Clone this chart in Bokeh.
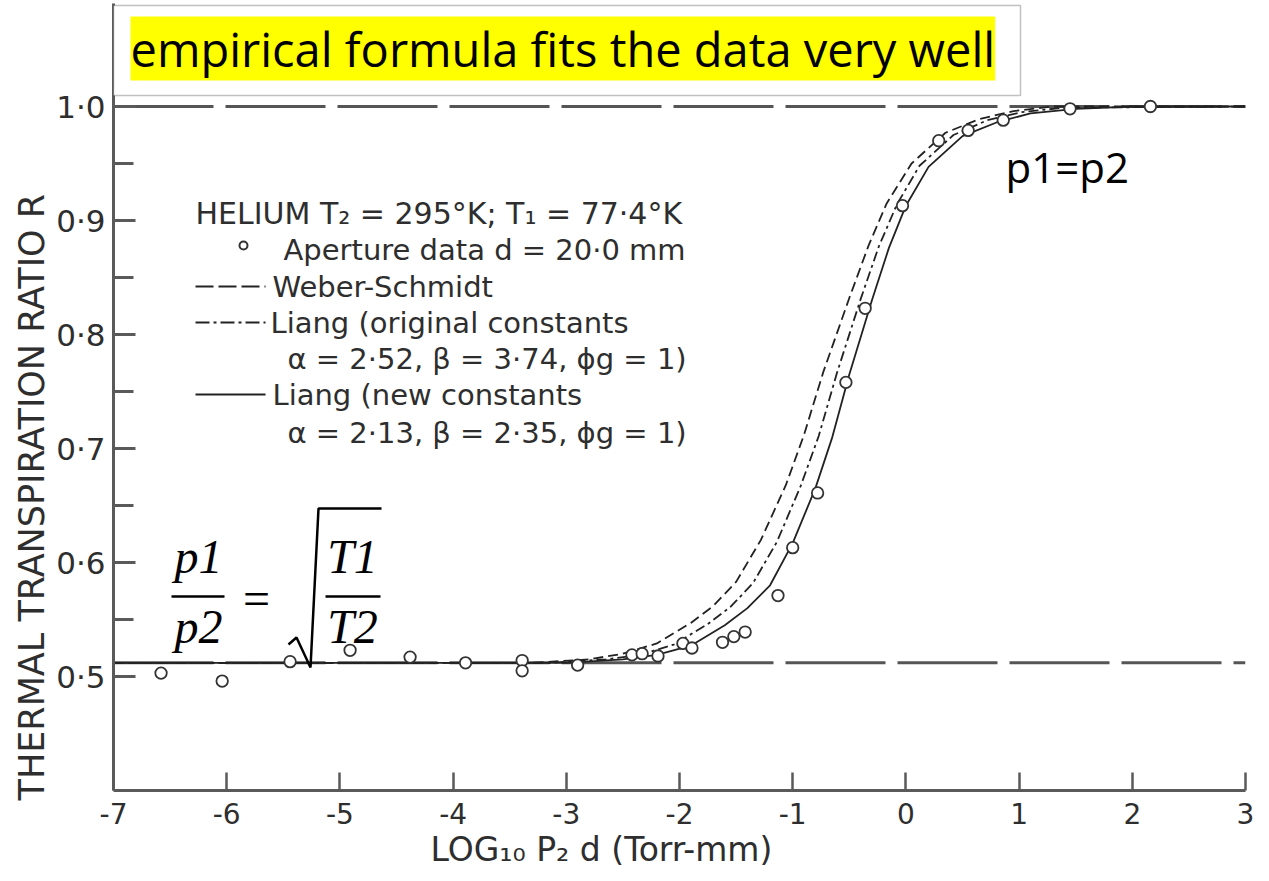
import math
from bokeh.plotting import figure
from bokeh.models import Range1d, FixedTicker, Label, BoxAnnotation, Title
from bokeh.core.properties import value
from bokeh.embed import file_html
from bokeh.resources import INLINE

# ---------------- data ----------------
aperture_x = [-6.58, -6.04, -5.44, -4.91, -4.38, -3.89, -3.39, -3.39, -2.90, -2.42, -2.33, -2.19,
              -1.97, -1.89, -1.62, -1.52, -1.42, -1.13, -1.00, -0.78, -0.53, -0.36, -0.03, 0.29,
              0.55, 0.86, 1.45, 2.16]
aperture_y = [0.503, 0.496, 0.513, 0.523, 0.517, 0.512, 0.514, 0.505, 0.510, 0.519, 0.520, 0.518,
              0.529, 0.525, 0.530, 0.535, 0.539, 0.571, 0.613, 0.661, 0.758, 0.823, 0.913, 0.970,
              0.979, 0.988, 0.998, 1.000]

# Weber-Schmidt (dashed)
ws_x = [-7.0, -3.3, -2.8, -2.5, -2.2, -1.9, -1.7, -1.5, -1.28, -1.06, -0.9, -0.73, -0.5, -0.33,
        -0.17, 0.05, 0.35, 0.65, 0.95, 1.3, 3.0]
ws_y = [0.512, 0.512, 0.515, 0.520, 0.529, 0.547, 0.562, 0.583, 0.620, 0.668, 0.712, 0.767, 0.832,
        0.878, 0.915, 0.950, 0.977, 0.989, 0.996, 1.000, 1.000]

# Liang, original constants (dash-dot)
lo_x = [-7.0, -3.15, -2.65, -2.35, -2.05, -1.75, -1.55, -1.35, -1.14, -0.93, -0.77, -0.61, -0.4,
        -0.24, -0.08, 0.12, 0.42, 0.72, 1.02, 1.4, 3.0]
lo_y = [0.512, 0.512, 0.515, 0.519, 0.528, 0.546, 0.561, 0.582, 0.618, 0.667, 0.711, 0.766, 0.831,
        0.877, 0.914, 0.948, 0.975, 0.988, 0.995, 0.999, 1.000]

# Liang, new constants (solid)
ln_x = [-7.0, -3.0, -2.5, -2.2, -1.9, -1.6, -1.4, -1.2, -1.0, -0.8, -0.65, -0.5, -0.3, -0.15, 0.0,
        0.2, 0.5, 0.8, 1.1, 1.5, 2.0, 3.0]
ln_y = [0.512, 0.512, 0.515, 0.519, 0.527, 0.545, 0.560, 0.580, 0.617, 0.665, 0.710, 0.765, 0.830,
        0.876, 0.913, 0.947, 0.974, 0.986, 0.994, 0.998, 1.000, 1.000]

low_ratio = 0.512    # sqrt(T1/T2)
high_ratio = 1.0     # p1 = p2

x_ticks = [-7, -6, -5, -4, -3, -2, -1, 0, 1, 2, 3]
x_tick_labels = ["-7", "-6", "-5", "-4", "-3", "-2", "-1", "0", "1", "2", "3"]
y_ticks = [0.5, 0.6, 0.7, 0.8, 0.9, 1.0]
y_tick_labels = ["0·5", "0·6", "0·7", "0·8", "0·9", "1·0"]
y_minor_ticks = [0.55, 0.65, 0.75, 0.85, 0.95]

title_text = "empirical formula fits the data very well"
x_label = "LOG₁₀ P₂ d  (Torr-mm)"
y_label = "THERMAL  TRANSPIRATION  RATIO   R"
legend_head = "HELIUM  T₂ = 295°K;  T₁ = 77·4°K"
legend_rows = ["Aperture data  d = 20·0 mm", "Weber-Schmidt", "Liang (original constants",
               "α = 2·52,  β = 3·74,  ϕg = 1)", "Liang (new constants",
               "α = 2·13,  β = 2·35,  ϕg = 1)"]

# ---------------- layout ----------------
W, H = 1269, 881
L, R, T, B = 113, 24, 3, 91
X0, X1 = -7.0, 3.0
Y0 = 0.4
PX_PER_Y = 1140.0
Y1 = Y0 + (H - T - B) / PX_PER_Y

def dx(px):
    return X0 + (px - L) * (X1 - X0) / (W - L - R)

def dy(py):
    return Y1 - (py - T) / PX_PER_Y

INK = "#2e2e2e"
AXIS = "#5a5a5a"

p = figure(width=W, height=H, x_range=Range1d(X0, X1), y_range=Range1d(Y0, Y1),
           output_backend="svg", toolbar_location=None,
           min_border_left=L, min_border_right=R, min_border_top=T, min_border_bottom=B)
p.grid.visible = False
p.outline_line_color = None
p.background_fill_color = "white"
p.border_fill_color = "white"

# axes
xa = p.xaxis[0]
xa.ticker = FixedTicker(ticks=x_ticks)
xa.major_label_overrides = {t: s for t, s in zip(x_ticks, x_tick_labels)}
xa.major_tick_in = 18
xa.major_tick_out = 0
xa.minor_tick_line_color = None
xa.axis_line_width = 3
xa.axis_line_color = AXIS
xa.major_tick_line_width = 2.5
xa.major_tick_line_color = AXIS
xa.major_label_text_font = "DejaVu Sans"
xa.major_label_text_font_size = "28px"
xa.major_label_text_color = INK
xa.major_label_standoff = 12

ya = p.yaxis[0]
ya.ticker = FixedTicker(ticks=y_ticks, minor_ticks=y_minor_ticks)
ya.major_label_overrides = {t: s for t, s in zip(y_ticks, y_tick_labels)}
ya.major_tick_in = 22
ya.major_tick_out = 0
ya.minor_tick_in = 20
ya.minor_tick_out = 0
ya.axis_line_width = 3
ya.axis_line_color = AXIS
ya.major_tick_line_width = 3
ya.major_tick_line_color = AXIS
ya.minor_tick_line_width = 3
ya.minor_tick_line_color = AXIS
ya.major_label_text_font = "DejaVu Sans"
ya.major_label_text_font_size = "31px"
ya.major_label_text_color = INK
ya.major_label_standoff = 8

# axis titles as side titles (so they can be shifted along the axis)
p.add_layout(Title(text=y_label, align="left", offset=-10, standoff=4, text_font="DejaVu Sans",
                   text_font_size="35px", text_font_style="normal", text_color=INK), "left")
p.add_layout(Title(text=x_label, align="left", offset=317, standoff=2, text_font="DejaVu Sans",
                   text_font_size="33px", text_font_style="normal", text_color=INK), "below")

# asymptotes
p.line([X0, X1], [high_ratio, high_ratio], line_color="#555555", line_width=3, line_dash="100 12")
p.line([X0, X1], [low_ratio, low_ratio], line_color="#555555", line_width=3, line_dash="100 12")

# curves
p.line(ws_x, ws_y, line_color="#222222", line_width=1.8, line_dash="10 5")
p.line(lo_x, lo_y, line_color="#222222", line_width=1.8, line_dash="10 4 3 4")
p.line(ln_x, ln_y, line_color="#222222", line_width=1.8)

# data
p.scatter(aperture_x, aperture_y, marker="circle", size=11.5, fill_color="white",
          line_color="#333333", line_width=1.8)

# ---------------- in-plot legend (drawn as in the scanned figure) ----------------
leg_font = value("DejaVu Sans")
p.text([dx(195)], [dy(213)], text=[legend_head], text_font=leg_font, text_font_size="30px",
       text_color=INK, text_baseline="middle")
p.scatter([dx(243)], [dy(245)], marker="circle", size=8, fill_color="white",
          line_color="#333333", line_width=2)
row_x = [283, 272, 270, 287, 272, 287]
row_y = [249, 286, 322, 358, 394, 432]
for tx, ty, s in zip(row_x, row_y, legend_rows):
    p.text([dx(tx)], [dy(ty)], text=[s], text_font=leg_font, text_font_size="29px",
           text_color=INK, text_baseline="middle")
p.line([dx(195), dx(265)], [dy(286), dy(286)], line_color="#222222", line_width=2, line_dash="18 5")
p.line([dx(195), dx(265)], [dy(322), dy(322)], line_color="#222222", line_width=2, line_dash="14 4 3 4")
p.line([dx(195), dx(265)], [dy(394), dy(394)], line_color="#222222", line_width=2)

# ---------------- formula p1/p2 = sqrt(T1/T2) ----------------
serif = value("Liberation Serif")
for s, cx, cy in [("p1", 198, 582), ("p2", 198, 652), ("T1", 352, 582), ("T2", 352, 652)]:
    p.text([dx(cx)], [dy(cy)], text=[s], text_font=serif, text_font_style="italic",
           text_font_size="48px", text_align="center", text_baseline="bottom", text_color="black")
p.line([dx(171), dx(224)], [dy(596), dy(596)], line_color="black", line_width=2.5)
p.text([dx(256)], [dy(598)], text=["="], text_font=serif, text_font_size="48px",
       text_align="center", text_baseline="middle", text_color="black")
p.line([dx(288), dx(296), dx(310), dx(318), dx(381)],
       [dy(644), dy(637), dy(667), dy(508), dy(508)], line_color="black", line_width=2.5)
p.line([dx(325), dx(380)], [dy(596), dy(596)], line_color="black", line_width=2.5)

# p1=p2
p.text([dx(1005)], [dy(166)], text=["p1=p2"], text_font=value("Open Sans"), text_font_size="42px",
       text_align="left", text_baseline="middle", text_color="black")

# ---------------- title box ----------------
p.add_layout(BoxAnnotation(left=X0, right=dx(1020), top=dy(5), bottom=dy(95),
                           fill_color="white", fill_alpha=1.0, line_color="#333333", line_width=1.5))
p.add_layout(Label(x=dx(130), y=dy(48), text=title_text, text_font="Open Sans",
                   text_font_size="47px", text_color="black", text_baseline="middle",
                   text_align="left", background_fill_color="#ffff00"))

open("out.html", "w").write(file_html(p, INLINE))
